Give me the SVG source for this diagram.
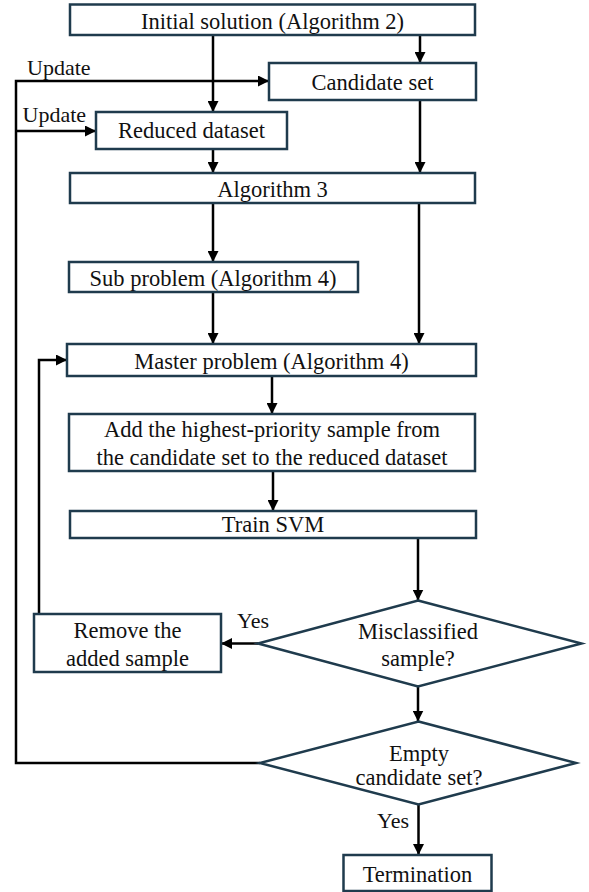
<svg xmlns="http://www.w3.org/2000/svg" width="589" height="892" viewBox="0 0 589 892">
<style>
.box{fill:#fff;stroke:#1f3b4d;stroke-width:2.5}
.t{font-family:"Liberation Serif","Times New Roman",serif;font-size:22.5px;fill:#111;text-anchor:middle}
.l{font-family:"Liberation Serif","Times New Roman",serif;font-size:22px;fill:#111}
.c{fill:none;stroke:#000;stroke-width:2.5}
</style>
<defs>
<marker id="ah" viewBox="0 0 10 10" refX="10" refY="5" markerWidth="11" markerHeight="11" markerUnits="userSpaceOnUse" orient="auto">
<path d="M0,0 L10,5 L0,10 z" fill="#000"/>
</marker>
</defs>
<rect width="589" height="892" fill="#fff"/>
<g id="connectors">
<path class="c" d="M420,35 V63" marker-end="url(#ah)"/>
<path class="c" d="M213,35 V112" marker-end="url(#ah)"/>
<path class="c" d="M260,763 H16 V81 H269" marker-end="url(#ah)"/>
<path class="c" d="M16,131 H96" marker-end="url(#ah)"/>
<path class="c" d="M213,149 V173" marker-end="url(#ah)"/>
<path class="c" d="M420,100 V173" marker-end="url(#ah)"/>
<path class="c" d="M213,203 V262" marker-end="url(#ah)"/>
<path class="c" d="M213,292 V344" marker-end="url(#ah)"/>
<path class="c" d="M419,203 V344" marker-end="url(#ah)"/>
<path class="c" d="M272,376 V414" marker-end="url(#ah)"/>
<path class="c" d="M273,471 V511" marker-end="url(#ah)"/>
<path class="c" d="M418,538 V600.5" marker-end="url(#ah)"/>
<path class="c" d="M258,643.5 H221" marker-end="url(#ah)"/>
<path class="c" d="M39,614 V360 H67" marker-end="url(#ah)"/>
<path class="c" d="M418,686.5 V721.5" marker-end="url(#ah)"/>
<path class="c" d="M418.5,804.5 V855" marker-end="url(#ah)"/>
<text class="l" x="27" y="75">Update</text>
<text class="l" x="22.5" y="122">Update</text>
<text class="l" x="237" y="628">Yes</text>
<text class="l" x="377" y="828">Yes</text>
</g>
<g id="initial"><rect class="box" x="70" y="4.5" width="405" height="30.5"/><text class="t" x="272.5" y="29">Initial solution (Algorithm 2)</text></g>
<g id="candidate"><rect class="box" x="269" y="63" width="207" height="37"/><text class="t" x="372.5" y="90">Candidate set</text></g>
<g id="reduced"><rect class="box" x="96" y="112" width="191" height="37"/><text class="t" x="191.5" y="138">Reduced dataset</text></g>
<g id="alg3"><rect class="box" x="70" y="173" width="405" height="30"/><text class="t" x="272.5" y="196.5">Algorithm 3</text></g>
<g id="sub"><rect class="box" x="69" y="262" width="289" height="30"/><text class="t" x="213" y="286">Sub problem (Algorithm 4)</text></g>
<g id="master"><rect class="box" x="67" y="344" width="409" height="32"/><text class="t" x="271.5" y="369">Master problem (Algorithm 4)</text></g>
<g id="add"><rect class="box" x="69" y="414" width="406" height="57"/><text class="t" x="272" y="436.5">Add the highest-priority sample from</text><text class="t" x="272" y="465">the candidate set to the reduced dataset</text></g>
<g id="train"><rect class="box" x="70" y="511" width="406" height="27"/><text class="t" x="273" y="532">Train SVM</text></g>
<g id="remove"><rect class="box" x="34" y="614" width="187" height="58"/><text class="t" x="127.5" y="638">Remove the</text><text class="t" x="127.5" y="666">added sample</text></g>
<g id="misclassified"><polygon class="box" points="418,600.5 581.5,643.5 418,686.5 258,643.5"/><text class="t" x="418" y="639">Misclassified</text><text class="t" x="418" y="666">sample?</text></g>
<g id="empty"><polygon class="box" points="418.5,721.5 576,763 418.5,804.5 260,763"/><text class="t" x="419" y="760.5">Empty</text><text class="t" x="419" y="785">candidate set?</text></g>
<g id="termination"><rect class="box" x="343.5" y="855" width="148" height="36"/><text class="t" x="417.5" y="881.5">Termination</text></g>
</svg>
